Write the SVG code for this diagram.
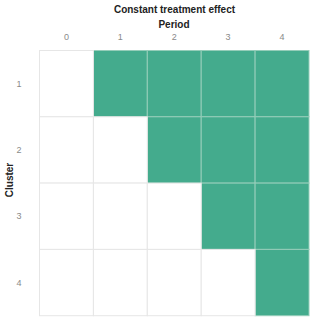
<svg xmlns="http://www.w3.org/2000/svg" width="327" height="327" viewBox="0 0 327 327">
<style>
.title{font-family:"Liberation Sans",Arial,sans-serif;font-size:10px;font-weight:bold;fill:#222;text-anchor:middle}
.tick{font-family:"Liberation Sans",Arial,sans-serif;font-size:9px;fill:#8a8a8a;text-anchor:middle}
.on{fill:#44ab8d;stroke:#95cdb9;stroke-width:1}
.off{fill:#ffffff;stroke:#e6e6e6;stroke-width:1}
</style>
<rect width="327" height="327" fill="#ffffff"/>
<text class="title" x="174.5" y="12.5">Constant treatment effect</text>
<text class="title" x="174" y="28">Period</text>
<g id="x-axis">
<text class="tick" x="66.4" y="40">0</text>
<text class="tick" x="120.3" y="40">1</text>
<text class="tick" x="174.2" y="40">2</text>
<text class="tick" x="228.1" y="40">3</text>
<text class="tick" x="282" y="40">4</text>
</g>
<g id="y-axis">
<text class="tick" x="19" y="86.8">1</text>
<text class="tick" x="19" y="153.1">2</text>
<text class="tick" x="19" y="219.4">3</text>
<text class="tick" x="19" y="285.7">4</text>
</g>
<text class="title" transform="translate(12.5,180) rotate(-90)">Cluster</text>
<g id="cells-treated">
<rect id="c1p1" class="on" x="93.4" y="50.5" width="53.9" height="66.3"/>
<rect id="c1p2" class="on" x="147.3" y="50.5" width="53.9" height="66.3"/>
<rect id="c1p3" class="on" x="201.2" y="50.5" width="53.9" height="66.3"/>
<rect id="c1p4" class="on" x="255.1" y="50.5" width="53.9" height="66.3"/>
<rect id="c2p2" class="on" x="147.3" y="116.8" width="53.9" height="66.3"/>
<rect id="c2p3" class="on" x="201.2" y="116.8" width="53.9" height="66.3"/>
<rect id="c2p4" class="on" x="255.1" y="116.8" width="53.9" height="66.3"/>
<rect id="c3p3" class="on" x="201.2" y="183.1" width="53.9" height="66.3"/>
<rect id="c3p4" class="on" x="255.1" y="183.1" width="53.9" height="66.3"/>
<rect id="c4p4" class="on" x="255.1" y="249.4" width="53.9" height="66.3"/>
</g>
<g id="cells-control">
<rect id="c1p0" class="off" x="39.5" y="50.5" width="53.9" height="66.3"/>
<rect id="c2p0" class="off" x="39.5" y="116.8" width="53.9" height="66.3"/>
<rect id="c2p1" class="off" x="93.4" y="116.8" width="53.9" height="66.3"/>
<rect id="c3p0" class="off" x="39.5" y="183.1" width="53.9" height="66.3"/>
<rect id="c3p1" class="off" x="93.4" y="183.1" width="53.9" height="66.3"/>
<rect id="c3p2" class="off" x="147.3" y="183.1" width="53.9" height="66.3"/>
<rect id="c4p0" class="off" x="39.5" y="249.4" width="53.9" height="66.3"/>
<rect id="c4p1" class="off" x="93.4" y="249.4" width="53.9" height="66.3"/>
<rect id="c4p2" class="off" x="147.3" y="249.4" width="53.9" height="66.3"/>
<rect id="c4p3" class="off" x="201.2" y="249.4" width="53.9" height="66.3"/>
</g>
</svg>
